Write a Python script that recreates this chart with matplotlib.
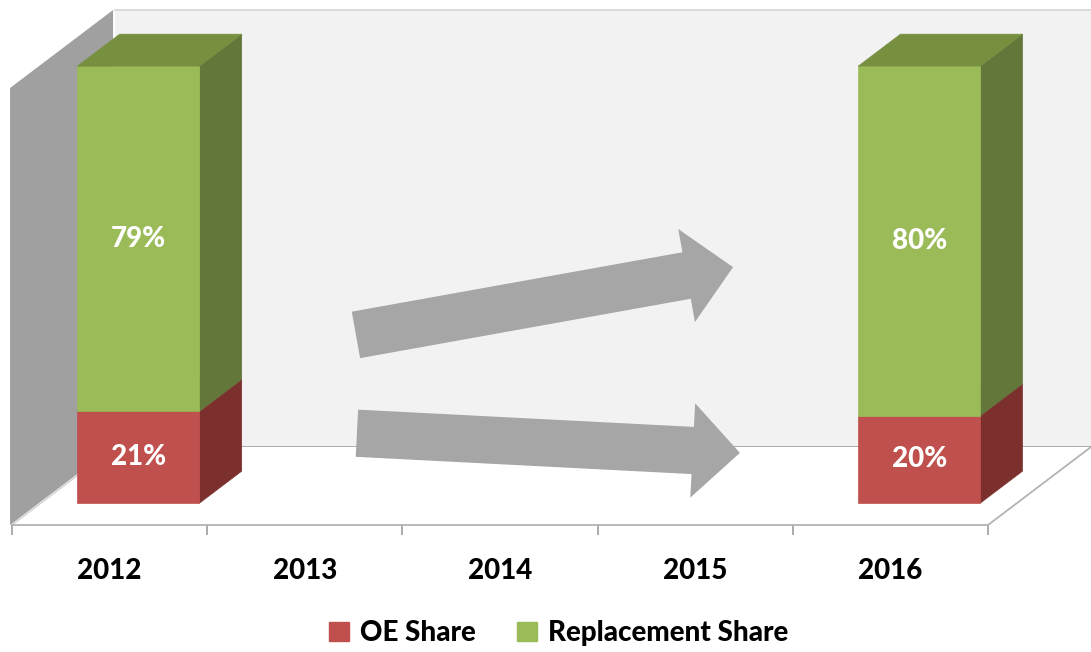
import matplotlib
matplotlib.use("Agg")
import matplotlib.pyplot as plt
import matplotlib.patches as mpatches
import numpy as np

years = ["2012", "2013", "2014", "2015", "2016"]
oe_share = [21, np.nan, np.nan, np.nan, 20]
replacement_share = [79, np.nan, np.nan, np.nan, 80]

series_names = ["OE Share", "Replacement Share"]
front_colors = ["#c0504d", "#9bbb59"]
side_colors = ["#7c302e", "#63773a"]
top_colors = ["#9a403d", "#77903f"]

# oblique projection: depth vector in data units (category, percent)
DX = 103 / 195.2
DY = 78 / 4.37
D0, D1 = 0.28, 0.69  # bar depth span inside the box
BAR_W = 0.625
WEIGHT = 900


def proj(x, y, d):
    return (x + d * DX, y + d * DY)


plt.rcParams["font.family"] = ["Lato", "DejaVu Sans"]

fig = plt.figure(figsize=(10.91, 6.52), dpi=100)
ax = fig.add_axes([12 / 1091, (652 - 525) / 652, 976 / 1091, 437 / 652])
ax.set_xlim(-0.5, len(years) - 0.5)
ax.set_ylim(0, 100)
ax.patch.set_visible(False)
for side in ["top", "left", "right"]:
    ax.spines[side].set_visible(False)
ax.spines["bottom"].set_color("#b3b3b3")
ax.spines["bottom"].set_linewidth(1.3)

x0, x1 = -0.5, len(years) - 0.5

# back wall
back = [proj(x0, 0, 1), proj(x1, 0, 1), proj(x1, 100, 1), proj(x0, 100, 1)]
ax.add_patch(mpatches.Polygon(back, closed=True, facecolor="#f2f2f2",
                              edgecolor="none", clip_on=False, zorder=0))
ax.plot(*zip(proj(x0, 100, 1), proj(x1, 100, 1)), color="#dcdcdc", lw=1.5,
        clip_on=False, zorder=0.5)
ax.plot(*zip(proj(x0, 0, 1), proj(x1, 0, 1)), color="#a6a6a6", lw=1.3,
        clip_on=False, zorder=0.5)

# floor
floor = [proj(x0, 0, 0), proj(x1, 0, 0), proj(x1, 0, 1), proj(x0, 0, 1)]
ax.add_patch(mpatches.Polygon(floor, closed=True, facecolor="white",
                              edgecolor="none", clip_on=False, zorder=0.6))
ax.plot(*zip(proj(x1, 0, 0), proj(x1, 0, 1)), color="#b3b3b3", lw=1.3,
        clip_on=False, zorder=0.7)

# left side wall
wall = [proj(x0 - 0.01, 0, 0), proj(x0 - 0.01, 0, 1),
        proj(x0 - 0.01, 100, 1), proj(x0 - 0.01, 100, 0)]
ax.add_patch(mpatches.Polygon(wall, closed=True, facecolor="#a0a0a0",
                              edgecolor="none", clip_on=False, zorder=0.8))
ax.plot(*zip(proj(x0, 0, 0), proj(x0, 0, 1)), color="#d0d0d0", lw=1.0,
        clip_on=False, zorder=0.9)

# stacked 3D bars
for i, year in enumerate(years):
    vals = [oe_share[i], replacement_share[i]]
    if np.isnan(vals[0]):
        continue
    bottom = 0
    xa, xb = i - BAR_W / 2, i + BAR_W / 2
    for k, v in enumerate(vals):
        top = bottom + v
        side = [proj(xb, bottom, D0), proj(xb, bottom, D1),
                proj(xb, top, D1), proj(xb, top, D0)]
        front = [proj(xa, bottom, D0), proj(xb, bottom, D0),
                 proj(xb, top, D0), proj(xa, top, D0)]
        lid = [proj(xa, top, D0), proj(xb, top, D0),
               proj(xb, top, D1), proj(xa, top, D1)]
        for poly, col in [(side, side_colors[k]), (front, front_colors[k]),
                          (lid, top_colors[k])]:
            ax.add_patch(mpatches.Polygon(poly, closed=True, facecolor=col,
                                          edgecolor=col, lw=0.5, clip_on=False,
                                          zorder=2 + k))
        cx, cy = proj(i, bottom + v / 2, D0)
        ax.text(cx, cy, f"{v:.0f}%", ha="center", va="center", color="white",
                fontsize=20, fontweight=WEIGHT, zorder=5)
        bottom = top

# trend arrows
arrow_style = "simple,head_length=34,head_width=68,tail_width=34"
for start, end in [((1.262, 43.5), (3.194, 59.0)),
                   ((1.267, 21.0), (3.229, 16.5))]:
    ax.add_patch(mpatches.FancyArrowPatch(start, end, arrowstyle=arrow_style,
                                          mutation_scale=1, color="#a6a6a6",
                                          shrinkA=0, shrinkB=0, lw=0,
                                          clip_on=False, zorder=4))

# axis ticks and labels
ax.set_yticks([])
ax.set_xticks(np.arange(len(years) + 1) - 0.5)
ax.set_xticklabels([])
ax.tick_params(axis="x", which="major", length=7, color="#a6a6a6", width=1.3)
ax.set_xticks(np.arange(len(years)), minor=True)
ax.set_xticklabels(years, minor=True, fontsize=20, fontweight=WEIGHT)
ax.tick_params(axis="x", which="minor", length=0, pad=24)

handles = [mpatches.Patch(color=c, label=n) for c, n in zip(front_colors, series_names)]
fig.legend(handles=handles, loc="center", bbox_to_anchor=(0.512, 0.029),
           ncol=2, frameon=False, handlelength=0.7,
           handleheight=0.7, handletextpad=0.4, columnspacing=1.5,
           prop={"weight": WEIGHT, "size": 20})

fig.savefig("out.png", dpi=100)
